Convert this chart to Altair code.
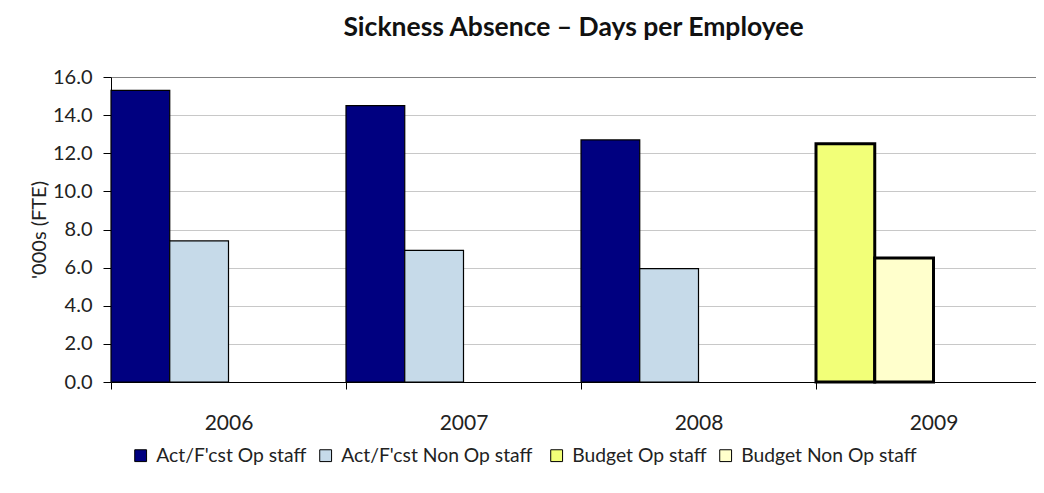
import altair as alt
import pandas as pd

years = ["2006", "2007", "2008", "2009"]
op_staff = [15.3, 14.5, 12.7, 12.5]
non_op_staff = [7.4, 6.9, 5.95, 6.5]
series_names = ["Act/F'cst Op staff", "Act/F'cst  Non Op staff", "Budget Op staff", "Budget Non Op staff"]
series_colors = ["#000080", "#C6DAE9", "#F2FF78", "#FFFFCC"]
y_ticks = [0, 2, 4, 6, 8, 10, 12, 14, 16]

rows = []
for i, yr in enumerate(years):
    budget = yr == "2009"
    rows.append({"year": yr, "series": series_names[2] if budget else series_names[0], "slot": "a", "value": op_staff[i]})
    rows.append({"year": yr, "series": series_names[3] if budget else series_names[1], "slot": "b", "value": non_op_staff[i]})
df = pd.DataFrame(rows)

FONT = "Lato"

chart = alt.Chart(df).mark_bar(stroke="black").encode(
    x=alt.X("year:N", sort=years,
            scale=alt.Scale(paddingInner=0, paddingOuter=0, range=[0, 940]),
            axis=alt.Axis(title=None, tickBand="extent", tickSize=7, tickColor="black",
                          domainColor="black", labelAngle=0, labelPadding=23,
                          labelFont=FONT, labelFontSize=21, labelColor="#222")),
    xOffset=alt.XOffset("slot:N", scale=alt.Scale(domain=["a", "b", "c", "d"], paddingInner=0, paddingOuter=0)),
    y=alt.Y("value:Q",
            scale=alt.Scale(domain=[0, 16], nice=False),
            axis=alt.Axis(title="'000s (FTE)", values=y_ticks, format=".1f",
                          tickSize=8, tickColor="black", domainColor="black",
                          labelPadding=11, labelFont=FONT, labelFontSize=20, labelColor="#222",
                          titleFont=FONT, titleFontSize=20, titleFontWeight="normal", titleColor="#222",
                          titlePadding=3,
                          gridColor={"condition": {"test": "datum.value == 16", "value": "#808080"}, "value": "#C8C8C8"})),
    color=alt.Color("series:N",
                    scale=alt.Scale(domain=series_names, range=series_colors),
                    legend=alt.Legend(title=None, orient="none", direction="horizontal",
                                      legendX=20, legendY=369,
                                      symbolType="square", symbolSize=140, symbolStrokeColor="black",
                                      symbolStrokeWidth=1, symbolOpacity=1,
                                      labelFont=FONT, labelFontSize=19.3, labelColor="#222", labelLimit=0,
                                      labelOffset=6, columnPadding=9)),
    strokeWidth=alt.condition("indexof(datum.series, 'Budget') == 0", alt.value(3), alt.value(1.2)),
).properties(
    width=925,
    height=305,
    title=alt.TitleParams("Sickness Absence \u2013 Days per Employee", font=FONT, fontSize=26.5,
                          fontWeight="bold", color="#111", anchor="middle", frame="group", offset=26),
    autosize=alt.AutoSizeParams(type="none"),
    padding={"left": 103, "top": 69, "right": 0, "bottom": 100},
).configure_view(stroke=None)

chart.save("out.html", embed_options={"renderer": "svg", "actions": False})
